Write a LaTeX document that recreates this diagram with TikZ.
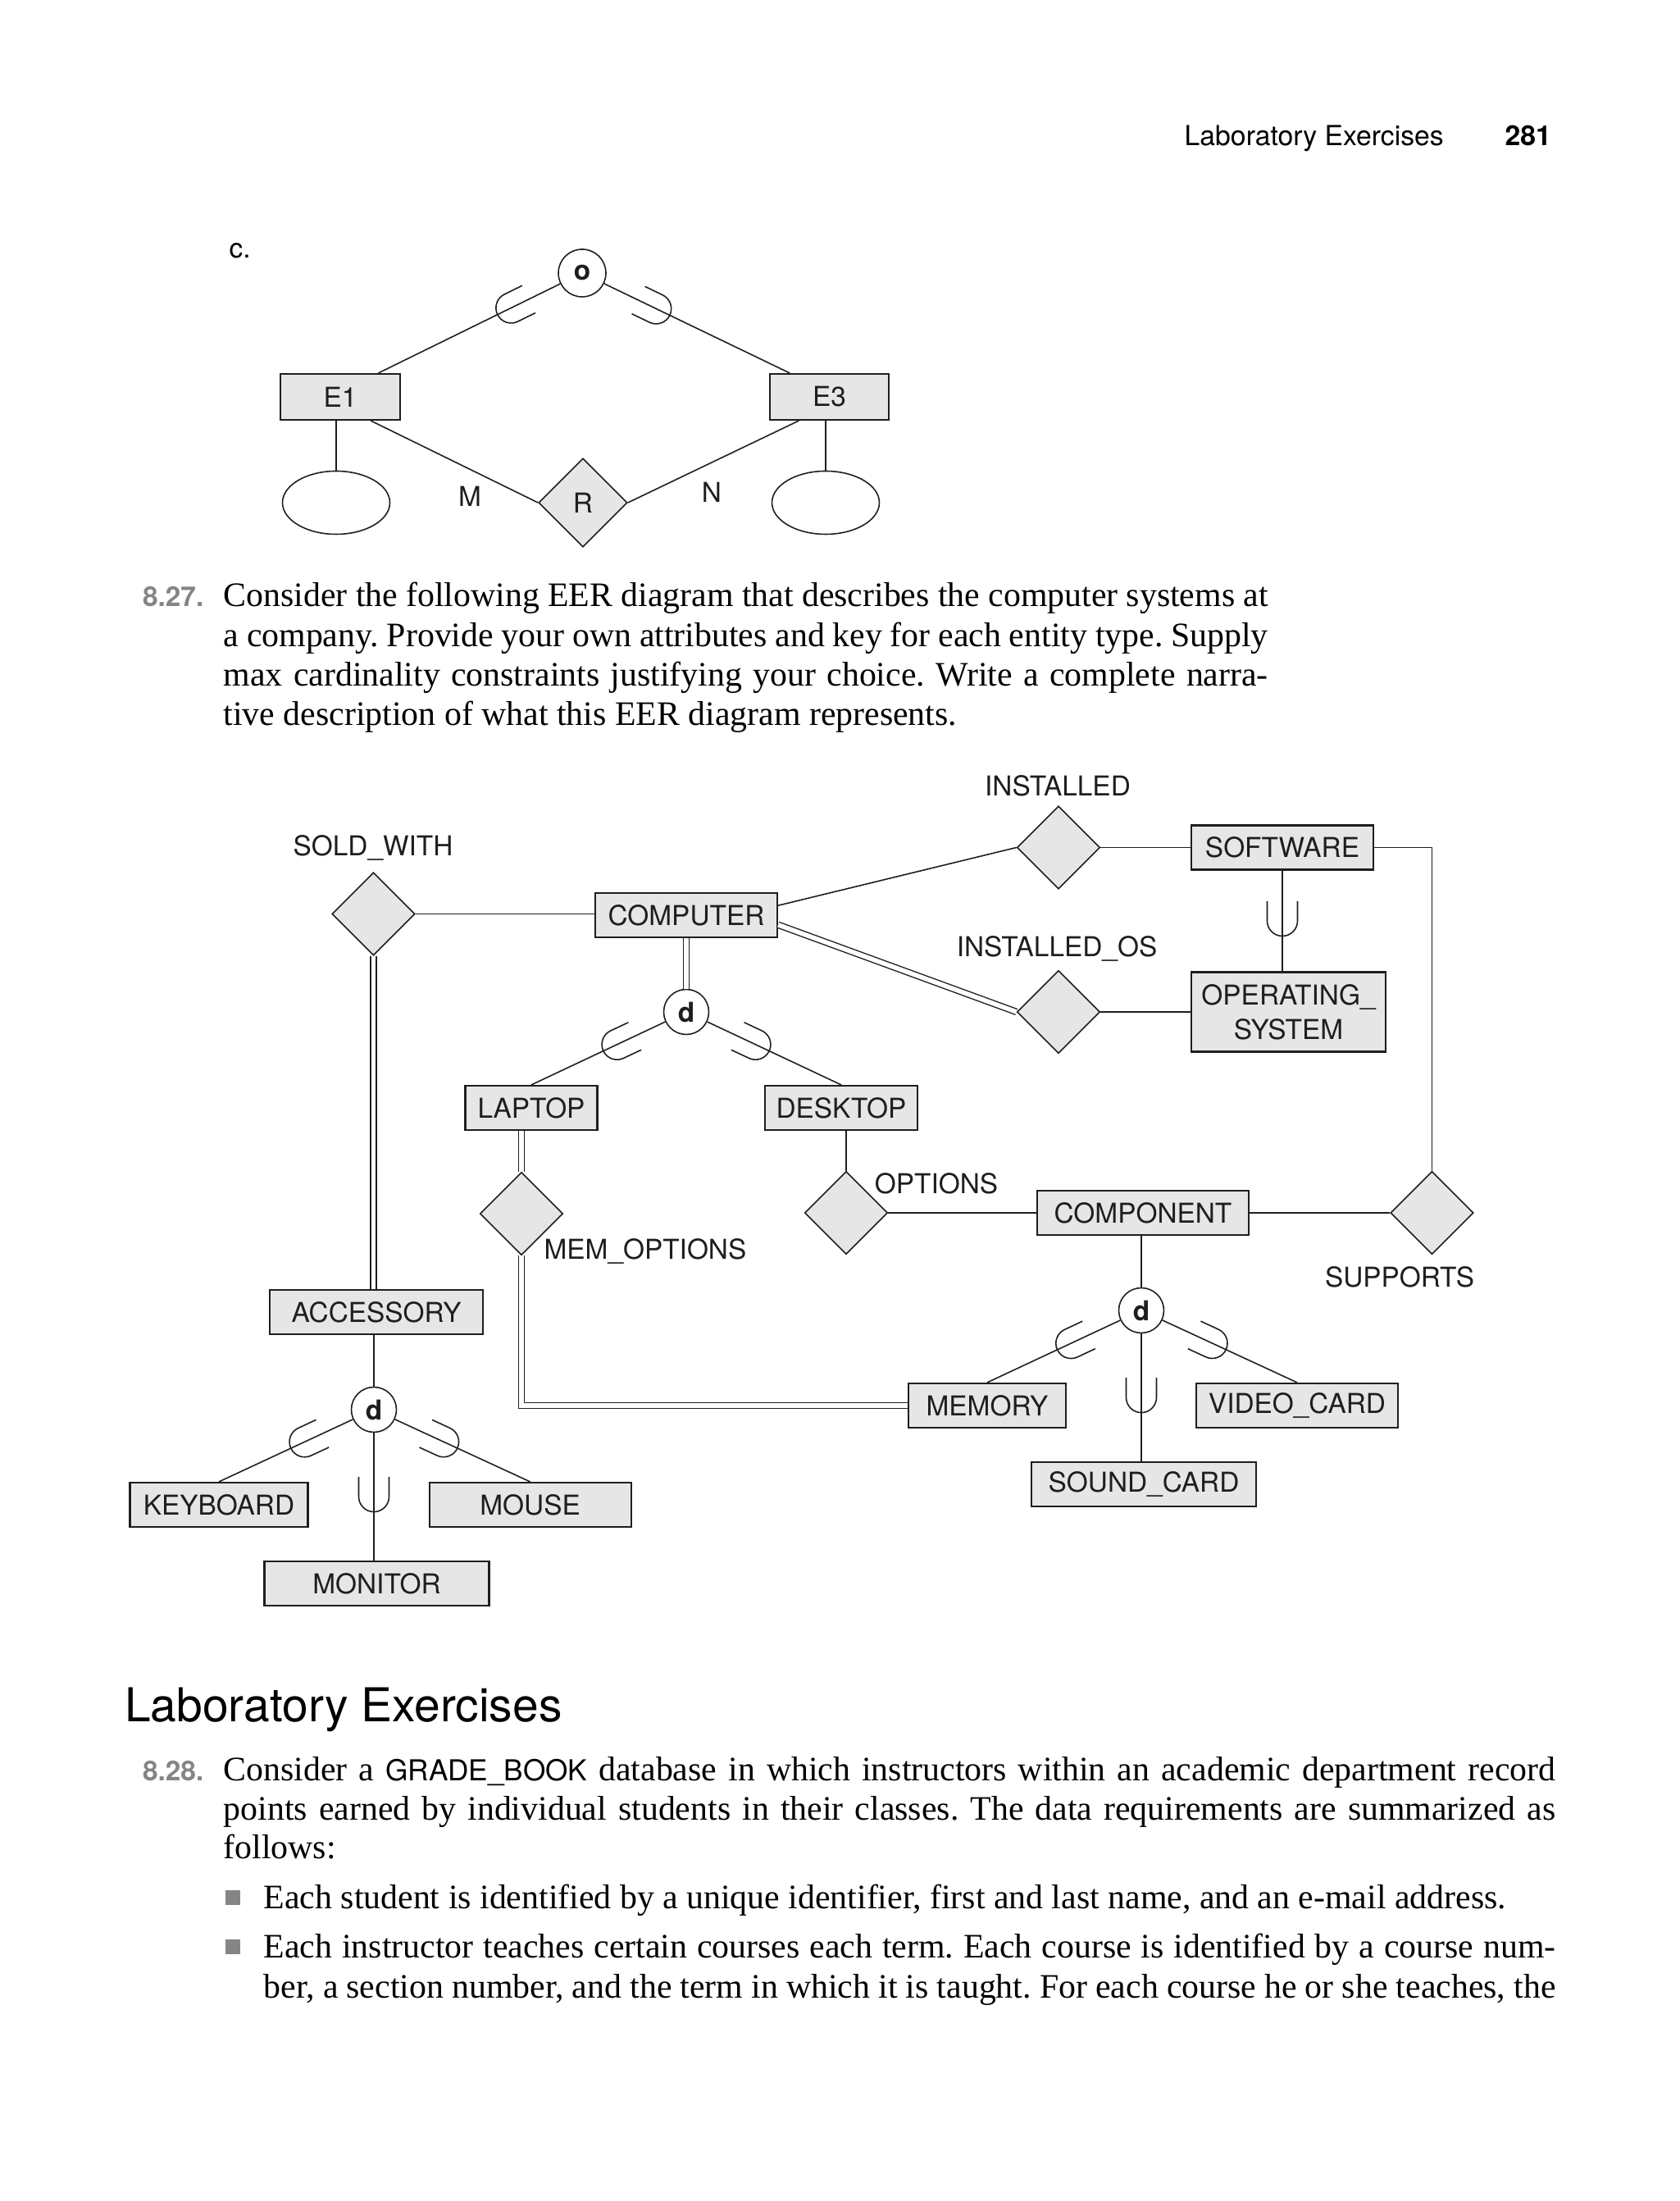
\documentclass[tikz,border=0pt]{standalone}
\usepackage{fontspec}
\setmainfont{Liberation Serif}
\newfontfamily\erfont{TeX Gyre Heros}
\usetikzlibrary{shapes.geometric,calc}
\definecolor{Ink}{HTML}{1E1E1E}
\definecolor{BoxFill}{HTML}{E6E6E6}
\definecolor{NumGray}{HTML}{858585}
\newcommand{\erfontsz}{\erfont\fontsize{9.5}{12}\selectfont}
\newcommand{\bodysz}{\rmfamily\fontsize{11.9}{14}\selectfont}
\newcommand{\gradebook}{\erfont\fontsize{10}{12}\selectfont}
\frenchspacing
\tikzset{
  entity/.style={draw=Ink, fill=BoxFill, line width=0.6pt, minimum height=0.54cm, inner sep=0pt, align=center, font=\erfontsz, text=Ink},
  relship/.style={diamond, aspect=1, draw=Ink, fill=BoxFill, line width=0.45pt, minimum size=1.01cm, inner sep=0pt, font=\erfontsz, text=Ink},
  splitcirc/.style={circle, draw=Ink, fill=white, line width=0.45pt, minimum size=0.55cm, inner sep=0pt, font=\erfont\bfseries\fontsize{9.5}{11}\selectfont, text=Ink},
  attrib/.style={ellipse, draw=Ink, fill=white, line width=0.45pt, minimum width=1.31cm, minimum height=0.77cm, inner sep=0pt},
  erlabel/.style={inner sep=0pt, font=\erfontsz, text=Ink},
  link/.style={draw=Ink, line width=0.45pt},
  totallink/.style={draw=Ink, line width=0.4pt, double=white, double distance=1.6pt},
  onlink/.style={pos=#1, sloped, allow upside down},
  subsetU/.pic={\draw[Ink, line width=0.45pt] (-0.24,0.185) -- (0,0.185) arc[start angle=90, end angle=-90, radius=0.185] -- (-0.24,-0.185);},
  bodyline/.style={anchor=base west, inner sep=0pt, font=\bodysz, text=black},
  exnum/.style={anchor=base east, inner sep=0pt, font=\erfont\bfseries\fontsize{9.5}{11}\selectfont, text=NumGray},
  bulletsq/.style={fill=NumGray, minimum size=0.18cm, inner sep=0pt},
  hdrtext/.style={anchor=base west, inner sep=0pt, font=\erfont\fontsize{9.6}{11}\selectfont, text=black},
}
\begin{document}
\begin{tikzpicture}
\path[use as bounding box] (0,0) rectangle (20.48,26.84);
\fill[white] (0,0) rectangle (20.48,26.84);

\node[hdrtext] (runhead) at (14.44,25.06) {Laboratory Exercises};
\node[hdrtext, font=\erfont\bfseries\fontsize{9.6}{11}\selectfont] (pageno) at (18.35,25.06) {281};

% part c
\node[hdrtext, font=\erfontsz] (partc) at (2.79,23.69) {c.};
\node[splitcirc, minimum size=0.58cm] (ovl) at (7.10,23.51) {o};
\node[entity, minimum width=1.46cm, minimum height=0.56cm] (e1) at (4.15,22.00) {E1};
\node[entity, minimum width=1.45cm, minimum height=0.56cm] (e3) at (10.115,22.00) {E3};
\node[relship, minimum size=1.08cm] (r) at (7.11,20.71) {R};
\node[attrib] (a1) at (4.10,20.71) {};
\node[attrib] (a3) at (10.07,20.71) {};
\node[erlabel] (m) at (5.73,20.79) {M};
\node[erlabel] (n) at (8.68,20.84) {N};
\draw[link] (ovl) -- (e1.32) pic[onlink=.27]{subsetU};
\draw[link] (ovl) -- (e3.149) pic[onlink=.28]{subsetU};
\draw[link] (e1.-38) -- (r.west);
\draw[link] (r.east) -- (e3.-142);
\draw[link] (a1) -- (a1 |- e1.south);
\draw[link] (a3) -- (a3 |- e3.south);

% exercise 8.27
\node[exnum] (n827) at (2.49,19.44) {8.27.};
\node[bodyline] (p1a) at (2.72,19.44) {\makebox[12.74cm][s]{Consider the following EER diagram that describes the computer systems at}};
\node[bodyline] (p1b) at (2.72,18.957) {\makebox[12.74cm][s]{a company. Provide your own attributes and key for each entity type. Supply}};
\node[bodyline] (p1c) at (2.72,18.474) {\makebox[12.74cm][s]{max cardinality constraints justifying your choice. Write a complete narra-}};
\node[bodyline] (p1d) at (2.72,17.99) {tive description of what this EER diagram represents.};

% EER diagram
\node[erlabel] (lsold) at (4.55,16.50) {SOLD\_WITH};
\node[erlabel] (linst) at (12.90,17.26) {INSTALLED};
\node[erlabel] (linstos) at (12.89,15.27) {INSTALLED\_OS};
\node[relship] (sold) at (4.555,15.695) {};
\node[entity, minimum width=2.22cm] (computer) at (8.37,15.68) {COMPUTER};
\node[relship] (inst) at (12.91,16.505) {};
\node[entity, minimum width=2.22cm] (software) at (15.64,16.505) {SOFTWARE};
\node[relship] (instos) at (12.91,14.50) {};
\node[entity, minimum width=2.37cm, minimum height=0.97cm] (os) at (15.715,14.50) {OPERATING\_\\SYSTEM};
\node[splitcirc] (dcomp) at (8.37,14.50) {d};
\node[entity, minimum width=1.61cm] (laptop) at (6.48,13.33) {LAPTOP};
\node[entity, minimum width=1.86cm] (desktop) at (10.26,13.33) {DESKTOP};
\node[relship] (memopt) at (6.36,12.04) {};
\node[relship] (options) at (10.32,12.05) {};
\node[entity, minimum width=2.585cm] (component) at (13.94,12.05) {COMPONENT};
\node[relship] (supports) at (17.465,12.05) {};
\node[erlabel] (lmemopt) at (7.87,11.58) {MEM\_OPTIONS};
\node[erlabel] (loptions) at (11.42,12.41) {OPTIONS};
\node[erlabel] (lsupports) at (17.07,11.27) {SUPPORTS};
\node[entity, minimum width=2.60cm] (accessory) at (4.59,10.84) {ACCESSORY};
\node[splitcirc] (dacc) at (4.56,9.65) {d};
\node[entity, minimum width=2.17cm] (keyboard) at (2.67,8.49) {KEYBOARD};
\node[entity, minimum width=2.46cm] (mouse) at (6.466,8.49) {MOUSE};
\node[entity, minimum width=2.74cm] (monitor) at (4.595,7.53) {MONITOR};
\node[splitcirc] (dpart) at (13.92,10.86) {d};
\node[entity, minimum width=1.915cm] (memory) at (12.04,9.70) {MEMORY};
\node[entity, minimum width=2.46cm] (videocard) at (15.82,9.70) {VIDEO\_CARD};
\node[entity, minimum width=2.74cm] (soundcard) at (13.95,8.74) {SOUND\_CARD};

\draw[link] (sold.east) -- (sold.east -| computer.west);
\draw[totallink] (sold.south) -- (sold.south |- accessory.north);
\draw[link] (computer.6) -- (inst.west);
\draw[totallink] (computer.-6) -- (instos.west);
\draw[link] (inst.east) -- (software.west);
\draw[link] (instos.east) -- (os.west);
\draw[link] (software.south) -- (software.south |- os.north) pic[onlink=.5]{subsetU};
\draw[link] (software.east) -| (supports.north);
\draw[totallink] (computer) -- (dcomp);
\draw[link] (dcomp) -- (laptop.north) pic[onlink=.36]{subsetU};
\draw[link] (dcomp) -- (desktop.north) pic[onlink=.36]{subsetU};
\draw[totallink] (memopt.north) -- (memopt.north |- laptop.south);
\draw[totallink] (memopt.south) |- (memory.west);
\draw[link] (options.north) -- (options.north |- desktop.south);
\draw[link] (options.east) -- (component.west);
\draw[link] (component.east) -- (supports.west);
\draw[link] (dpart) -- (dpart |- component.south);
\draw[link] (dpart) -- (memory.north) pic[onlink=.37]{subsetU};
\draw[link] (dpart) -- (videocard.north) pic[onlink=.37]{subsetU};
\draw[link] (dpart) -- (dpart |- soundcard.north) pic[onlink=.5]{subsetU};
\draw[link] (dacc) -- (dacc |- accessory.south);
\draw[link] (dacc) -- (keyboard.north) pic[onlink=.36]{subsetU};
\draw[link] (dacc) -- (mouse.north) pic[onlink=.36]{subsetU};
\draw[link] (dacc) -- (dacc |- monitor.north) pic[onlink=.5]{subsetU};

% lab exercises
\node[anchor=base west, inner sep=0pt, font=\erfont\fontsize{16.2}{19}\selectfont] (labhead) at (1.515,5.84) {Laboratory Exercises};
\node[exnum] (n828) at (2.49,5.123) {8.28.};
\node[bodyline] (p2a) at (2.72,5.123) {\makebox[16.246cm][s]{Consider a {\gradebook GRADE\_BOOK} database in which instructors within an academic department record}};
\node[bodyline] (p2b) at (2.72,4.64) {\makebox[16.246cm][s]{points earned by individual students in their classes. The data requirements are summarized as}};
\node[bodyline] (p2c) at (2.72,4.17) {follows:};
\node[bulletsq] (bul1) at (2.835,3.70) {};
\node[bodyline] (p3a) at (3.21,3.56) {Each student is identified by a unique identifier, first and last name, and an e-mail address.};
\node[bulletsq] (bul2) at (2.835,3.10) {};
\node[bodyline] (p4a) at (3.21,2.96) {\makebox[15.757cm][s]{Each instructor teaches certain courses each term. Each course is identified by a course num-}};
\node[bodyline] (p4b) at (3.21,2.473) {\makebox[15.757cm][s]{ber, a section number, and the term in which it is taught. For each course he or she teaches, the}};
\end{tikzpicture}
\end{document}
